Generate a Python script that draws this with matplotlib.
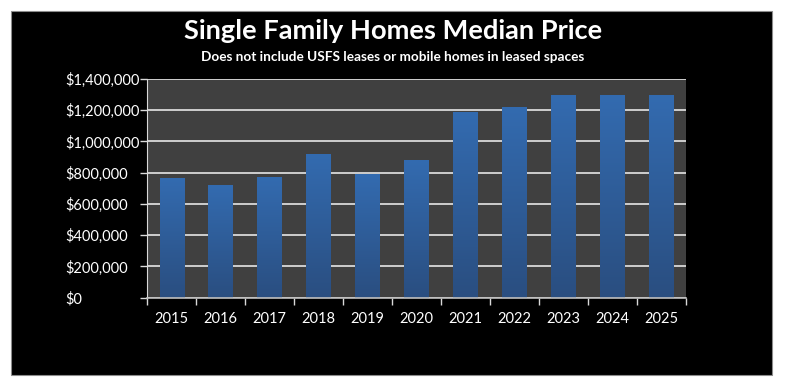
import matplotlib
matplotlib.use("Agg")
import matplotlib.pyplot as plt
import numpy as np
from matplotlib.patches import Rectangle
from matplotlib.colors import LinearSegmentedColormap

years = ["2015", "2016", "2017", "2018", "2019", "2020", "2021", "2022", "2023", "2024", "2025"]
prices = [765000, 720000, 773000, 918000, 792000, 883000, 1189000, 1223000, 1298000, 1298000, 1298000]
yticks = [0, 200000, 400000, 600000, 800000, 1000000, 1200000, 1400000]
ytick_labels = ["$0", "$200,000", "$400,000", "$600,000", "$800,000", "$1,000,000", "$1,200,000", "$1,400,000"]

FONT = ["Lato", "DejaVu Sans"]
plt.rcParams["font.family"] = FONT

fig = plt.figure(figsize=(7.86, 3.86), dpi=100)
fig.patch.set_facecolor("white")
# black panel
fig.add_artist(Rectangle((11/786, 1-374.5/386), (772-11)/786, (374.5-10.5)/386,
                         transform=fig.transFigure, facecolor="black",
                         edgecolor="#8c8c8c", linewidth=0.8, zorder=0))

ax_left_px = 147.3
ax = fig.add_axes([ax_left_px/786, 1-297.7/386, (685.7-147.3)/786, (297.7-79)/386])
ax.set_facecolor("#404040")
x = np.arange(len(years))
bars = ax.bar(x, prices, width=0.5, color="#2f5d99", zorder=3, edgecolor="none")
grad = np.linspace(0, 1, 256).reshape(-1, 1)
cmap = LinearSegmentedColormap.from_list("g", ["#2a4e80", "#336bb0"])
for b in bars:
    x0, y0 = b.get_x(), b.get_y()
    w, h = b.get_width(), b.get_height()
    im = ax.imshow(grad, cmap=cmap, aspect="auto", origin="lower",
                   extent=[x0, x0 + w, y0, y0 + h], zorder=4)
    im.set_clip_path(b)

ax.set_xlim(-0.5, len(years) - 0.5)
ax.set_ylim(0, 1400000)
ax.set_yticks(yticks)
ax.set_yticklabels(ytick_labels)
ax.set_xticks(x)
ax.set_xticklabels(years)
ax.set_xticks(np.arange(-0.5, len(years)), minor=True)
ax.tick_params(axis="x", which="major", length=0, pad=10, colors="white", labelsize=10.5)
ax.tick_params(axis="x", which="minor", length=5, width=1, color="#d9d9d9", direction="out")
tick_len = 5
label_left_px = 65
pad_pt = (ax_left_px - label_left_px) * 72 / 100 - tick_len
ax.tick_params(axis="y", which="major", length=tick_len, width=1, color="#d9d9d9", pad=pad_pt,
               labelcolor="white", labelsize=10.5)
for lab in ax.get_yticklabels():
    lab.set_horizontalalignment("left")
for lab in ax.get_xticklabels() + ax.get_yticklabels():
    lab.set_fontfamily(FONT)
ax.grid(axis="y", color="#e6e6e6", linewidth=1.2, zorder=1)
ax.set_axisbelow(True)
for s in ["top", "right"]:
    ax.spines[s].set_visible(False)
ax.spines["left"].set_color("#d9d9d9")
ax.spines["bottom"].set_color("#bfbfbf")
ax.spines["bottom"].set_linewidth(1.2)
ax.spines["bottom"].set_zorder(5)

fig.text(0.5, 1 - 31/386, "Single Family Homes Median Price", ha="center", va="center",
         color="white", fontsize=19.6, fontweight="bold", family=FONT)
fig.text(0.5, 1 - 57/386, "Does not include USFS leases or mobile homes in leased spaces",
         ha="center", va="center", color="white", fontsize=9.8, fontweight="bold", family=FONT)

fig.savefig("out.png", dpi=100, facecolor=fig.get_facecolor())
